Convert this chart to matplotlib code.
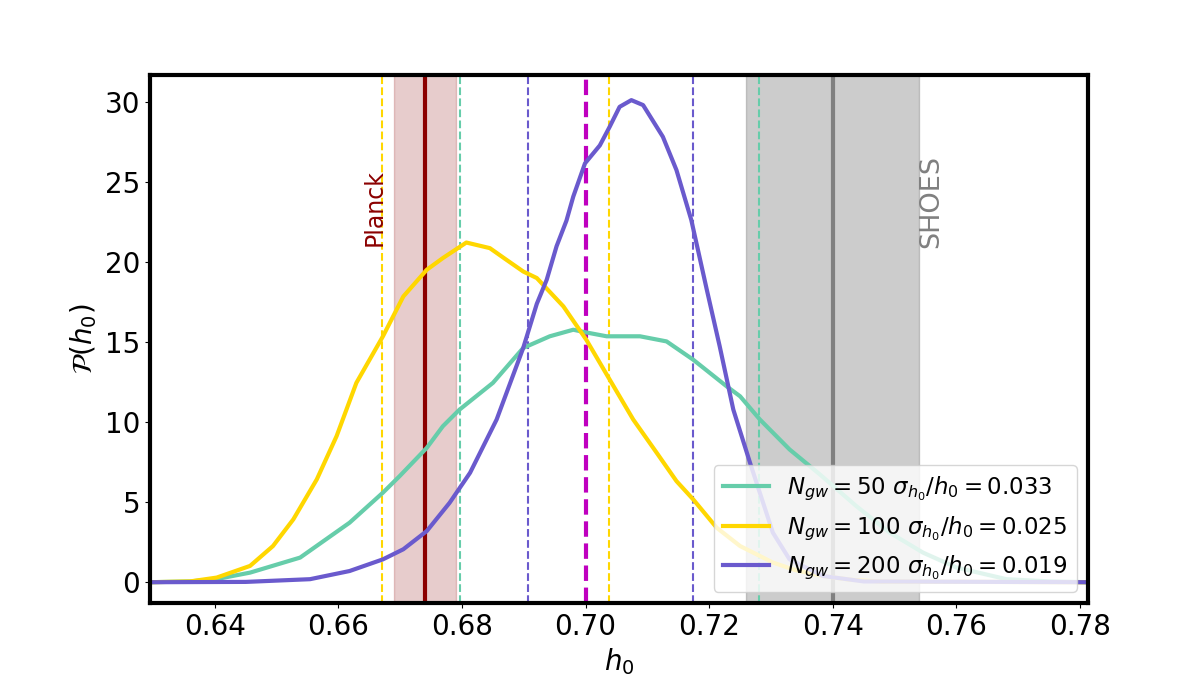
import numpy as np
import matplotlib.pyplot as plt

# posterior curves
h_50 = [0.6295, 0.636, 0.6403, 0.6457, 0.6538, 0.6618, 0.6672, 0.6699, 0.6743, 0.6769,
        0.6796, 0.6850, 0.6899, 0.6942, 0.6980, 0.7001, 0.7034, 0.7088, 0.7131, 0.7174,
        0.7228, 0.7250, 0.7282, 0.7330, 0.7379, 0.7438, 0.7492, 0.7546, 0.7600, 0.7681,
        0.7750, 0.7813]
p_50 = [0, 0.05, 0.2, 0.6, 1.54, 3.72, 5.6, 6.63, 8.4, 9.75,
        10.79, 12.46, 14.64, 15.37, 15.78, 15.61, 15.37, 15.37, 15.05, 13.91,
        12.25, 11.62, 10.17, 8.3, 6.74, 4.76, 3.1, 1.85, 0.92, 0.19,
        0.05, 0]

h_100 = [0.6295, 0.636, 0.6403, 0.6457, 0.6494, 0.6527, 0.6565, 0.6597, 0.6629, 0.6672,
         0.6705, 0.6743, 0.6769, 0.6807, 0.6845, 0.6870, 0.6899, 0.6921, 0.6964, 0.7001,
         0.7039, 0.7077, 0.7115, 0.7147, 0.7174, 0.7212, 0.7250, 0.7282, 0.7303, 0.7340,
         0.7384, 0.7430, 0.7480, 0.7813]
p_100 = [0, 0.05, 0.29, 1.02, 2.26, 3.93, 6.43, 9.13, 12.46, 15.37,
         17.86, 19.53, 20.26, 21.23, 20.88, 20.2, 19.42, 19.01, 17.24, 15.16,
         12.66, 10.17, 8.09, 6.32, 5.18, 3.41, 2.26, 1.64, 1.23, 0.75,
         0.39, 0.15, 0.04, 0]

h_200 = [0.6295, 0.6450, 0.6554, 0.6618, 0.6672, 0.6705, 0.6743, 0.6780, 0.6813, 0.6856,
         0.6899, 0.6921, 0.6937, 0.6953, 0.6969, 0.6980, 0.6999, 0.7023, 0.7039, 0.7055,
         0.7074, 0.7093, 0.7125, 0.7147, 0.7171, 0.7196, 0.7217, 0.7239, 0.7266, 0.7303,
         0.7330, 0.7384, 0.7450, 0.7813]
p_200 = [0, 0.02, 0.19, 0.7, 1.43, 2.06, 3.2, 4.97, 6.84, 10.17,
         14.64, 17.4, 18.9, 21.0, 22.6, 24.1, 26.18, 27.3, 28.47, 29.71,
         30.13, 29.82, 27.84, 25.76, 22.64, 18.3, 14.74, 10.79, 7.47, 3.1,
         1.43, 0.39, 0.05, 0]

labels = [r'$N_{gw}=50\ \sigma_{h_0}/h_0=0.033$',
          r'$N_{gw}=100\ \sigma_{h_0}/h_0=0.025$',
          r'$N_{gw}=200\ \sigma_{h_0}/h_0=0.019$']
colors = ['mediumaquamarine', 'gold', 'slateblue']

# credible interval bounds per run
bounds_50 = [0.6797, 0.7281]
bounds_100 = [0.6671, 0.7038]
bounds_200 = [0.6907, 0.7174]
h_true = 0.70

planck_mean, planck_err = 0.674, 0.005
shoes_mean, shoes_err = 0.740, 0.014

fig = plt.figure(figsize=(11.96, 6.8), dpi=100)
ax = fig.add_axes([0.1254, 0.1132, 0.7843, 0.7765])

ax.axvspan(planck_mean - planck_err, planck_mean + planck_err, color='darkred', alpha=0.2)
ax.axvline(planck_mean, color='darkred', lw=3)
ax.axvspan(shoes_mean - shoes_err, shoes_mean + shoes_err, color='gray', alpha=0.4)
ax.axvline(shoes_mean, color='gray', lw=3)
ax.text(0.6659, 21, 'Planck', rotation=90, color='darkred', fontsize=17,
        ha='center', va='bottom')
ax.text(0.7560, 20.9, 'SHOES', rotation=90, color='gray', fontsize=19.5,
        ha='center', va='bottom')

for b, c in zip([bounds_50, bounds_100, bounds_200], colors):
    for v in b:
        ax.axvline(v, color=c, ls='--', lw=1.5)
ax.axvline(h_true, color='m', ls='--', lw=3)

for h, p, c, lab in zip([h_50, h_100, h_200], [p_50, p_100, p_200], colors, labels):
    ax.plot(h, p, color=c, lw=3, label=lab)

ax.set_xlim(0.6295, 0.7813)
ax.set_ylim(-1.3, 31.7)
ax.set_xticks([0.64, 0.66, 0.68, 0.70, 0.72, 0.74, 0.76, 0.78])
ax.set_yticks([0, 5, 10, 15, 20, 25, 30])
ax.tick_params(labelsize=20)
ax.set_xlabel(r'$h_0$', fontsize=20)
ax.set_ylabel(r'$\mathcal{P}(h_0)$', fontsize=20)
for s in ax.spines.values():
    s.set_linewidth(3)

ax.legend(loc='lower right', fontsize=16.5)

fig.savefig('out.png', dpi=100)
